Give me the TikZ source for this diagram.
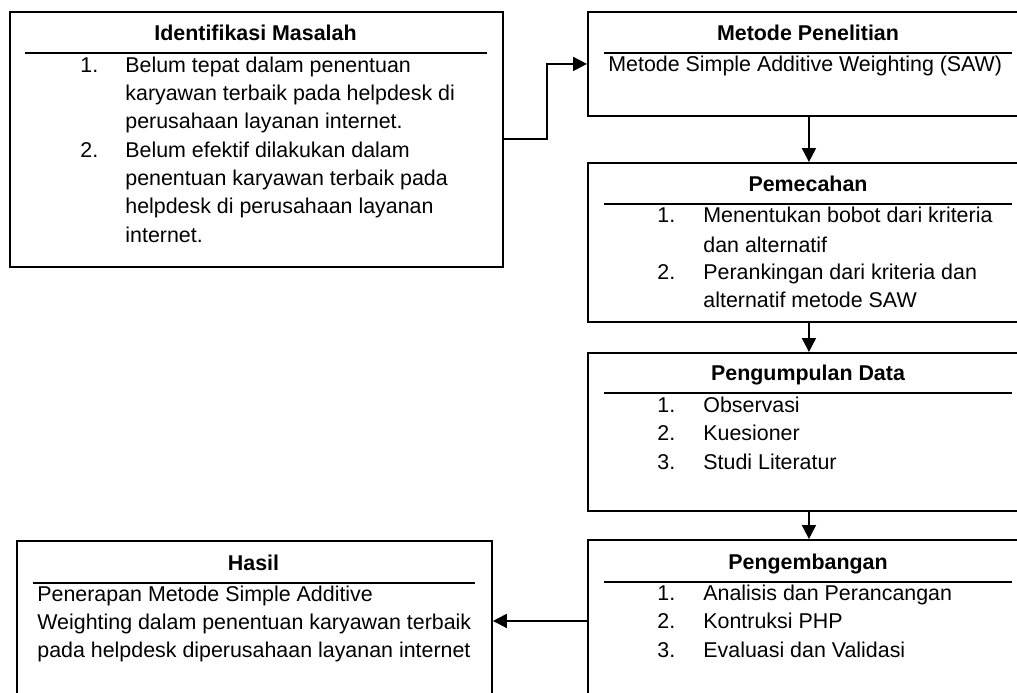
\documentclass[tikz,border=0pt]{standalone}
\usepackage{fontspec}
\setmainfont{Liberation Sans}
\usetikzlibrary{arrows.meta}
\begin{document}
\begin{tikzpicture}[x=0.5pt,y=-0.5pt,
  box/.style={draw, line width=0.95pt, inner sep=0, anchor=north west},
  ttl/.style={font=\fontsize{10.7}{13}\selectfont\bfseries, anchor=mid, inner sep=0},
  txt/.style={font=\fontsize{10.7}{13}\selectfont, anchor=mid west, inner sep=0},
  rulel/.style={line width=1.3pt},
  arr/.style={line width=1pt, -{Triangle[length=7pt,width=7pt]}}]
\useasboundingbox (0,0) rectangle (1017,692);
\clip (0,0) rectangle (1017,692);
% boxes
\node[box, minimum width=246.5pt, minimum height=127.5pt] (b1) at (9,11) {};
\node[box, minimum width=221pt, minimum height=52pt] (b2) at (587,11) {};
\node[box, minimum width=221pt, minimum height=79.5pt] (b3) at (587,162) {};
\node[box, minimum width=221pt, minimum height=79pt] (b4) at (587,352) {};
\node[box, minimum width=221pt, minimum height=81pt] (b5) at (587,539) {};
\node[box, minimum width=237.5pt, minimum height=80pt] (b6) at (16,540) {};
% titles
\node[ttl] (t1) at (255.5,35) {Identifikasi Masalah};
\node[ttl] (t2) at (808,35) {Metode Penelitian};
\node[ttl] (t3) at (808,186) {Pemecahan};
\node[ttl] (t4) at (808,375) {Pengumpulan Data};
\node[ttl] (t5) at (808,564) {Pengembangan};
\node[ttl] (t6) at (253.5,565) {Hasil};
% rules
\draw[rulel] (25,53) -- (487,53);
\draw[rulel] (604,53) -- (1012,53);
\draw[rulel] (604,204) -- (1012,204);
\draw[rulel] (604,393) -- (1012,393);
\draw[rulel] (604,582) -- (1012,582);
\draw[rulel] (33,583) -- (475,583);
% box 1 text
\node[txt] (n11) at (80,67) {1.};
\node[txt] (l11) at (125,67) {Belum tepat dalam penentuan};
\node[txt] (l12) at (125,95) {karyawan terbaik pada helpdesk di};
\node[txt] (l13) at (125,123) {perusahaan layanan internet.};
\node[txt] (n12) at (80,152) {2.};
\node[txt] (l14) at (125,152) {Belum efektif dilakukan dalam};
\node[txt] (l15) at (125,180) {penentuan karyawan terbaik pada};
\node[txt] (l16) at (125,208) {helpdesk di perusahaan layanan};
\node[txt] (l17) at (125,237) {internet.};
% box 2 text
\node[txt] (l21) at (608,66) {Metode Simple Additive Weighting (SAW)};
% box 3 text
\node[txt] (n31) at (657,217) {1.};
\node[txt] (l31) at (703,217) {Menentukan bobot dari kriteria};
\node[txt] (l32) at (703,247) {dan alternatif};
\node[txt] (n32) at (657,274) {2.};
\node[txt] (l33) at (703,274) {Perankingan dari kriteria dan};
\node[txt] (l34) at (703,302) {alternatif metode SAW};
% box 4 text
\node[txt] (n41) at (657,407) {1.};
\node[txt] (l41) at (703,407) {Observasi};
\node[txt] (n42) at (657,435) {2.};
\node[txt] (l42) at (703,435) {Kuesioner};
\node[txt] (n43) at (657,464) {3.};
\node[txt] (l43) at (703,464) {Studi Literatur};
% box 5 text
\node[txt] (n51) at (657,595) {1.};
\node[txt] (l51) at (703,595) {Analisis dan Perancangan};
\node[txt] (n52) at (657,623) {2.};
\node[txt] (l52) at (703,623) {Kontruksi PHP};
\node[txt] (n53) at (657,652) {3.};
\node[txt] (l53) at (703,652) {Evaluasi dan Validasi};
% box 6 text
\node[txt] (l61) at (37,596) {Penerapan Metode Simple Additive};
\node[txt] (l62) at (37,624) {Weighting dalam penentuan karyawan terbaik};
\node[txt] (l63) at (37,652) {pada helpdesk diperusahaan layanan internet};
% connectors
\draw[arr] (b1.east) -- ++(43,0) |- (b2.west);
\draw[arr] (b2.south) -- (b3.north);
\draw[arr] (b3.south) -- (b4.north);
\draw[arr] (b4.south) -- (b5.north);
\draw[arr] (b5.west) -- (b6.east);
\end{tikzpicture}
\end{document}
